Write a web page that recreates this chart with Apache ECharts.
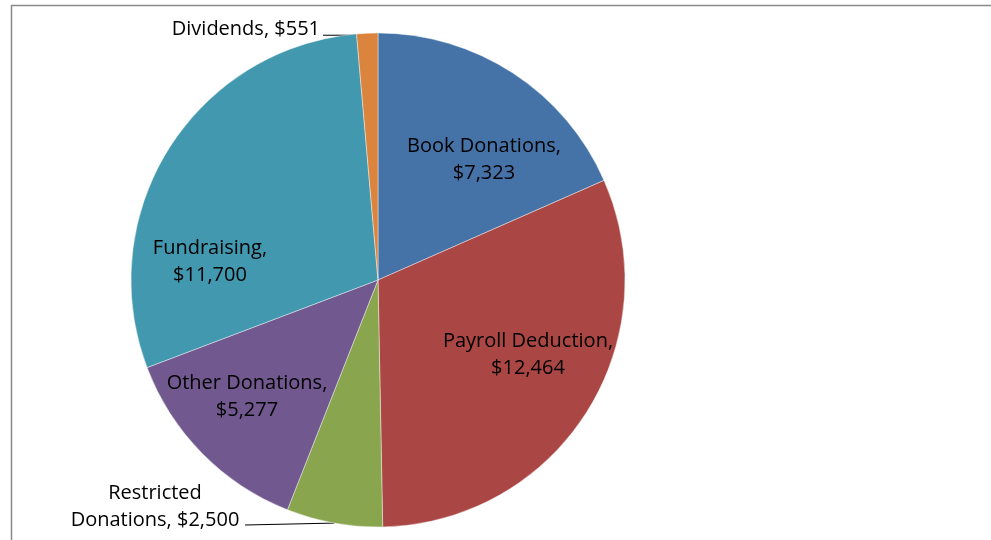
<!DOCTYPE html>
<html>
<head>
<meta charset="utf-8">
<script src="https://cdn.jsdelivr.net/npm/echarts@6/dist/echarts.min.js"></script>
<style>
  html, body { margin: 0; padding: 0; background: #fff; }
  #chart { width: 991px; height: 540px; }
</style>
</head>
<body>
<div id="chart"></div>
<script>
// Income sources pie
const categories = ['Book Donations', 'Payroll Deduction', 'Restricted Donations', 'Other Donations', 'Fundraising', 'Dividends'];
const values = [7323, 12464, 2500, 5277, 11700, 551];
const labelTexts = [
  'Book Donations,\n$7,323',
  'Payroll Deduction,\n$12,464',
  'Restricted\nDonations, $2,500',
  'Other Donations,\n$5,277',
  'Fundraising,\n$11,700',
  'Dividends, $551'
];

const COLORS = ['#4572a7', '#aa4643', '#89a54e', '#71588f', '#4198af', '#db843d'];
const CX = 378, CY = 280, R = 247;
const FONT = '"Open Sans", "Noto Sans", sans-serif';

// label anchors, offset from pie centre (layout only)
const LABEL_OFFSET = [[106, -120], [150, 75], [-223, 254], [-131, 117], [-168, -18], [-58, -251]];
const OUTSIDE = [false, false, true, false, false, true];

const total = values.reduce((a, b) => a + b, 0);
function edgePoint(i) {
  let before = 0;
  for (let k = 0; k < i; k++) before += values[k];
  const ang = (before + values[i] / 2) / total * Math.PI * 2;
  return [CX + R * Math.sin(ang), CY - R * Math.cos(ang)];
}

const chart = echarts.init(document.getElementById('chart'));
chart.setOption({
  animation: false,
  backgroundColor: '#fff',
  graphic: [{
    type: 'rect',
    shape: { x: 11.5, y: 5.5, width: 1100, height: 700 },
    style: { fill: 'none', stroke: '#8a8a8a', lineWidth: 1.5 },
    silent: true
  }],
  series: [{
    type: 'pie',
    center: [CX, CY],
    radius: [0, R],
    startAngle: 90,
    clockwise: true,
    avoidLabelOverlap: false,
    itemStyle: { borderColor: 'rgba(255,255,255,0.55)', borderWidth: 0.75 },
    label: {
      show: true,
      position: 'outside',
      color: '#000',
      fontFamily: FONT,
      fontSize: 20,
      lineHeight: 27,
      formatter: p => labelTexts[p.dataIndex]
    },
    labelLine: { show: true, lineStyle: { color: '#000', width: 1 } },
    labelLayout: function (p) {
      const i = p.dataIndex;
      const off = LABEL_OFFSET[i];
      if (!OUTSIDE[i]) {
        return { x: CX + off[0], y: CY + off[1], align: 'center', verticalAlign: 'middle' };
      }
      const e = edgePoint(i);
      if (i === 5) {
        const endX = CX + off[0] + 3;
        return {
          x: CX + off[0], y: CY + off[1], align: 'right', verticalAlign: 'middle',
          labelLinePoints: [[e[0] - 7, e[1] + 2], [e[0] - 7, e[1] + 2], [endX, e[1] + 2]]
        };
      }
      return {
        x: CX + off[0], y: CY + off[1], align: 'center', verticalAlign: 'bottom',
        labelLinePoints: [e, e, [CX + off[0] + 90, CY + off[1] - 9]]
      };
    },
    data: categories.map((c, i) => ({
      name: c,
      value: values[i],
      itemStyle: { color: COLORS[i] },
      labelLine: { show: OUTSIDE[i] }
    }))
  }]
});
window.addEventListener('resize', () => chart.resize());
</script>
</body>
</html>
